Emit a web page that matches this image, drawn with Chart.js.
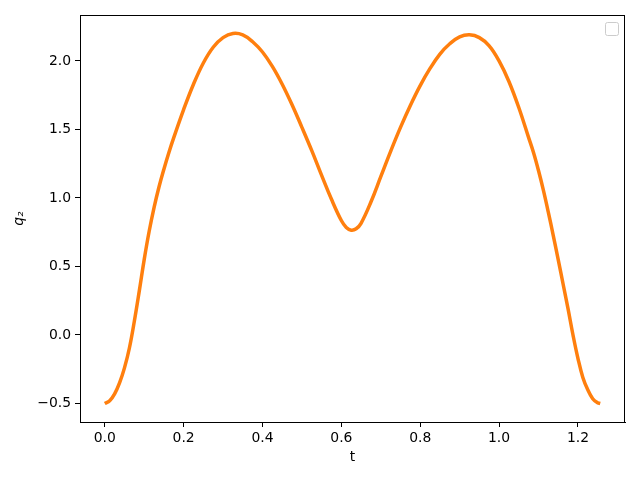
<!DOCTYPE html>
<html>
<head>
<meta charset="utf-8">
<script src="https://cdn.jsdelivr.net/npm/chart.js@4/dist/chart.umd.min.js"></script>
<style>
  html, body { margin: 0; padding: 0; background: #fff; }
  #c { display: block; }
</style>
</head>
<body>
<canvas id="c" width="640" height="480"></canvas>
<script>
// ---- data ----
const tValues = [0, 0.0125, 0.025, 0.0375, 0.05, 0.0625, 0.075, 0.0875, 0.10, 0.1125, 0.125,
  0.1375, 0.15, 0.1625, 0.175, 0.20, 0.225, 0.25, 0.275, 0.30, 0.325, 0.35, 0.375, 0.40, 0.425,
  0.45, 0.475, 0.50, 0.525, 0.55, 0.575, 0.60, 0.6125, 0.625, 0.6375, 0.65, 0.675, 0.70, 0.725,
  0.75, 0.775, 0.80, 0.825, 0.85, 0.875, 0.90, 0.925, 0.95, 0.975, 1.00, 1.025, 1.05, 1.075,
  1.0875, 1.10, 1.1125, 1.125, 1.1375, 1.15, 1.1625, 1.175, 1.1875, 1.20, 1.2125, 1.225,
  1.2375, 1.25, 1.2566];
const q2Values = [-0.50, -0.48, -0.43, -0.35, -0.24, -0.095, 0.10, 0.32, 0.55, 0.755, 0.93,
  1.08, 1.21, 1.33, 1.44, 1.645, 1.83, 1.985, 2.10, 2.17, 2.20, 2.19, 2.14, 2.065, 1.96,
  1.83, 1.68, 1.515, 1.345, 1.165, 0.99, 0.835, 0.785, 0.765, 0.775, 0.815, 0.97, 1.155, 1.34,
  1.515, 1.675, 1.82, 1.945, 2.05, 2.125, 2.175, 2.19, 2.17, 2.11, 2.00, 1.85, 1.66, 1.44,
  1.33, 1.20, 1.055, 0.895, 0.725, 0.55, 0.37, 0.19, 0.00, -0.17, -0.31, -0.40,
  -0.465, -0.495, -0.50];
const xTicks = [0.0, 0.2, 0.4, 0.6, 0.8, 1.0, 1.2];
const yTicks = [-0.5, 0.0, 0.5, 1.0, 1.5, 2.0];
const xLabel = 't';
const yLabel = 'q\u2082';

const points = tValues.map((t, i) => ({ x: t, y: q2Values[i] }));
const fmt = v => Number(v).toFixed(1).replace('-', '\u2212');
const tickFont = { family: 'DejaVu Sans', size: 13.9 };

const framePlugin = {
  id: 'frame',
  afterDraw(chart) {
    const { ctx, chartArea: a } = chart;
    ctx.save();
    ctx.strokeStyle = '#000';
    ctx.lineWidth = 1;
    ctx.strokeRect(Math.round(a.left) + 0.5, Math.round(a.top) + 0.5,
      Math.round(a.right - a.left) - 1, Math.round(a.bottom - a.top));
    // empty legend frame (upper right)
    ctx.strokeStyle = 'rgba(204,204,204,1)';
    ctx.fillStyle = 'rgba(255,255,255,0.8)';
    const w = 13, h = 13, x = a.right - 19.5, y = a.top + 7.5;
    ctx.beginPath();
    if (ctx.roundRect) ctx.roundRect(x, y, w, h, 2); else ctx.rect(x, y, w, h);
    ctx.fill();
    ctx.stroke();
    ctx.restore();
  }
};

new Chart(document.getElementById('c'), {
  type: 'scatter',
  data: {
    datasets: [{
      data: points,
      showLine: true,
      borderColor: '#ff7f0e',
      backgroundColor: '#ff7f0e',
      borderWidth: 3.5,
      pointRadius: 0,
      tension: 0.4,
      borderCapStyle: 'butt'
    }]
  },
  options: {
    responsive: false,
    animation: false,
    devicePixelRatio: 1,
    layout: { padding: { top: 15, right: 15, left: 0, bottom: 0 } },
    plugins: { legend: { display: false }, tooltip: { enabled: false } },
    scales: {
      x: {
        type: 'linear',
        min: -0.0628,
        max: 1.3194,
        afterFit(s) { s.height = 58; },
        afterBuildTicks(s) { s.ticks = xTicks.map(v => ({ value: v })); },
        grid: { drawOnChartArea: false, drawTicks: true, tickLength: 5, color: '#000', tickWidth: 1 },
        border: { display: true, color: '#000', width: 1 },
        ticks: { color: '#000', font: tickFont, padding: 3, maxRotation: 0, callback: v => fmt(v) },
        title: { display: true, text: xLabel, color: '#000', font: tickFont, padding: { top: 0, bottom: 14.5 } }
      },
      y: {
        type: 'linear',
        min: -0.635,
        max: 2.335,
        afterFit(s) { s.width = 80; },
        afterBuildTicks(s) { s.ticks = yTicks.map(v => ({ value: v })); },
        grid: { drawOnChartArea: false, drawTicks: true, tickLength: 5, color: '#000', tickWidth: 1 },
        border: { display: true, color: '#000', width: 1 },
        ticks: { color: '#000', font: tickFont, padding: 4, callback: v => fmt(v) },
        title: { display: true, text: yLabel, color: '#000', font: { family: 'DejaVu Sans', size: 13.9, style: 'italic' }, padding: { top: 11.5, bottom: 0 } }
      }
    }
  },
  plugins: [framePlugin]
});
</script>
</body>
</html>
